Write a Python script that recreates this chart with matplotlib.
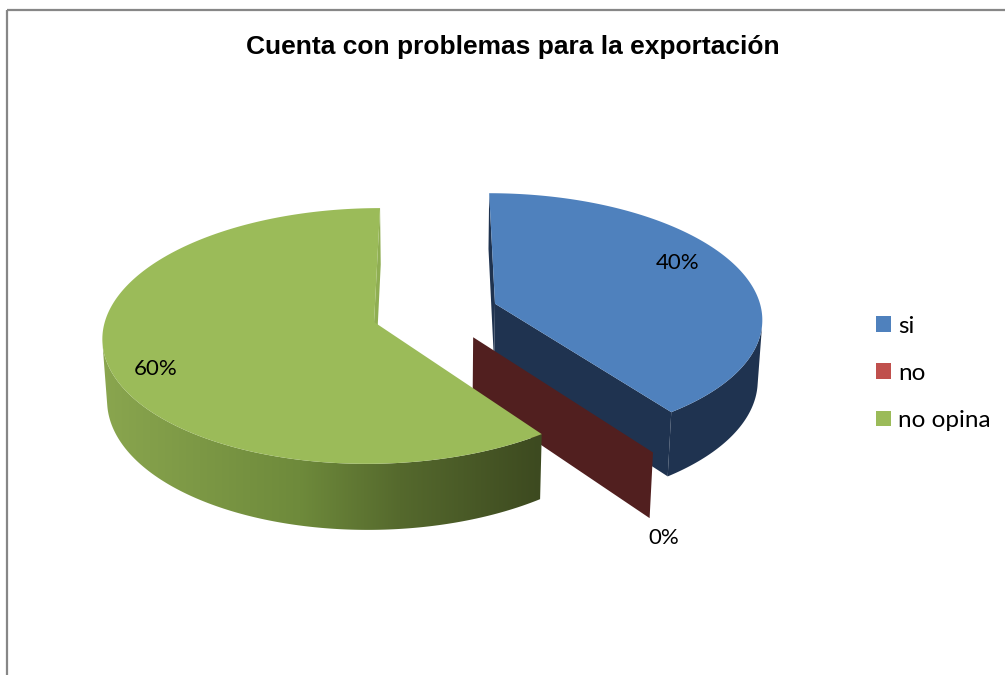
import numpy as np
import matplotlib.pyplot as plt
from matplotlib.patches import Polygon, Rectangle, Patch
from matplotlib.colors import to_rgb

title = "Cuenta con problemas para la exportación"
categories = ["si", "no", "no opina"]
shares = [40, 0, 60]  # percent

top_colors = ["#4F81BD", "#C0504D", "#9BBB59"]
side_colors = ["#1F3350", "#511F1F", "#3E4B21"]

# 3d pie geometry (unit radius), simple pinhole camera
FOCAL = 2236.0
XSCALE = 0.982
DIST = 8.22
ELEV = np.radians(27.2)
THICK = 0.254
EXPLODE = 0.238
CX, CY = 435.0, 312.8
CAM = DIST * np.array([0.0, -np.cos(ELEV), np.sin(ELEV)])


def project(X, Y, Z):
    X, Y, Z = np.asarray(X, float), np.asarray(Y, float), np.asarray(Z, float)
    d = DIST + Y * np.cos(ELEV) - Z * np.sin(ELEV)
    u = XSCALE * FOCAL * X / d
    v = FOCAL * (Y * np.sin(ELEV) + Z * np.cos(ELEV)) / d
    return np.column_stack([CX + u, CY - v])


def faces_camera(point, normal):
    return np.dot(CAM - point, normal) > 0


fig = plt.figure(figsize=(10.05, 6.75), dpi=100)
ax = fig.add_axes([0, 0, 1, 1])
ax.set_xlim(0, 1005)
ax.set_ylim(675, 0)
ax.axis("off")

# horizontal shading used on the green cylinder wall
shade_x = [100, 300, 400, 540]
shade_c = np.array([to_rgb(c) for c in ["#8AA64F", "#6E8A3B", "#55692D", "#3D4A20"]])
grad_x = np.linspace(90, 560, 400)
gradient = np.stack([np.interp(grad_x, shade_x, shade_c[:, k]) for k in range(3)], axis=-1)[None, :, :]

fracs = np.array(shares, float) / sum(shares)
ends = np.cumsum(fracs) * 2 * np.pi
starts = ends - fracs * 2 * np.pi

for i, (t0, t1) in enumerate(zip(starts, ends)):
    mid = (t0 + t1) / 2
    ox, oy = EXPLODE * np.sin(mid), EXPLODE * np.cos(mid)
    zo = 2 + i * 3
    n = max(2, int(np.degrees(t1 - t0) / 0.5))
    th = np.linspace(t0, t1, n)
    rx, ry = ox + np.sin(th), oy + np.cos(th)
    top_rim = project(rx, ry, np.zeros(n))
    bot_rim = project(rx, ry, np.full(n, -THICK))
    apex_top = project([ox], [oy], [0])[0]
    apex_bot = project([ox], [oy], [-THICK])[0]

    if t1 - t0 < 1e-9:
        # empty category: only the cut wall is left
        wall = [apex_top, top_rim[0], bot_rim[0], apex_bot]
        ax.add_patch(Polygon(wall, closed=True, fc=side_colors[i], ec="none", zorder=zo))
        continue

    # outer curved side, only the part turned to the viewer
    vis = [k for k in range(n)
           if faces_camera(np.array([rx[k], ry[k], 0.0]),
                           np.array([np.sin(th[k]), np.cos(th[k]), 0.0]))]
    if len(vis) > 1:
        k0, k1 = vis[0], vis[-1]
        side = np.vstack([top_rim[k0:k1 + 1], bot_rim[k0:k1 + 1][::-1]])
        if i == 2:
            poly = Polygon(side, closed=True, fc="none", ec="none", zorder=zo)
            ax.add_patch(poly)
            img = ax.imshow(gradient, extent=(grad_x[0], grad_x[-1], 560, 300),
                            aspect="auto", zorder=zo, interpolation="bilinear")
            img.set_clip_path(poly)
        else:
            ax.add_patch(Polygon(side, closed=True, fc=side_colors[i], ec="none", zorder=zo))

    # radial cut faces
    for t, nrm, idx in [(t0, (-np.cos(t0), np.sin(t0), 0.0), 0),
                        (t1, (np.cos(t1), -np.sin(t1), 0.0), -1)]:
        p = np.array([ox + 0.5 * np.sin(t), oy + 0.5 * np.cos(t), 0.0])
        if not faces_camera(p, np.array(nrm)):
            continue
        fc = side_colors[i] if i != 2 else "#8FAE52"
        wall = [apex_top, top_rim[idx], bot_rim[idx], apex_bot]
        ax.add_patch(Polygon(wall, closed=True, fc=fc, ec="none", zorder=zo + 1))

    top = np.vstack([[apex_top], top_rim])
    ax.add_patch(Polygon(top, closed=True, fc=top_colors[i], ec="none", zorder=zo + 2))

ax.set_xlim(0, 1005)
ax.set_ylim(675, 0)

# percentage labels
label_pos = [(678, 263), (664, 538), (156, 369)]
for val, (lx, ly) in zip(shares, label_pos):
    ax.text(lx, ly, f"{val}%", ha="center", va="center", fontsize=16,
            family=["Lato", "DejaVu Sans"], color="black", zorder=20)

ax.text(513, 47, title, ha="center", va="center", fontsize=19,
        family="Liberation Sans", weight="bold", zorder=20)

handles = [Patch(facecolor=c, edgecolor="none") for c in top_colors]
leg = ax.legend(handles, categories, loc="center left", bbox_to_anchor=(0.8716, 0.447),
                frameon=False, prop={"family": "Lato", "size": 17.5},
                handlelength=0.62, handleheight=0.62, handletextpad=0.3,
                labelspacing=1.08, borderaxespad=0, borderpad=0)

# chart area frame, runs off the right and bottom edges
ax.add_patch(Rectangle((6.5, 9.5), 1020, 700, fill=False, ec="#878787", lw=1.6,
                       zorder=30, clip_on=False))

fig.savefig("out.png", dpi=100)
